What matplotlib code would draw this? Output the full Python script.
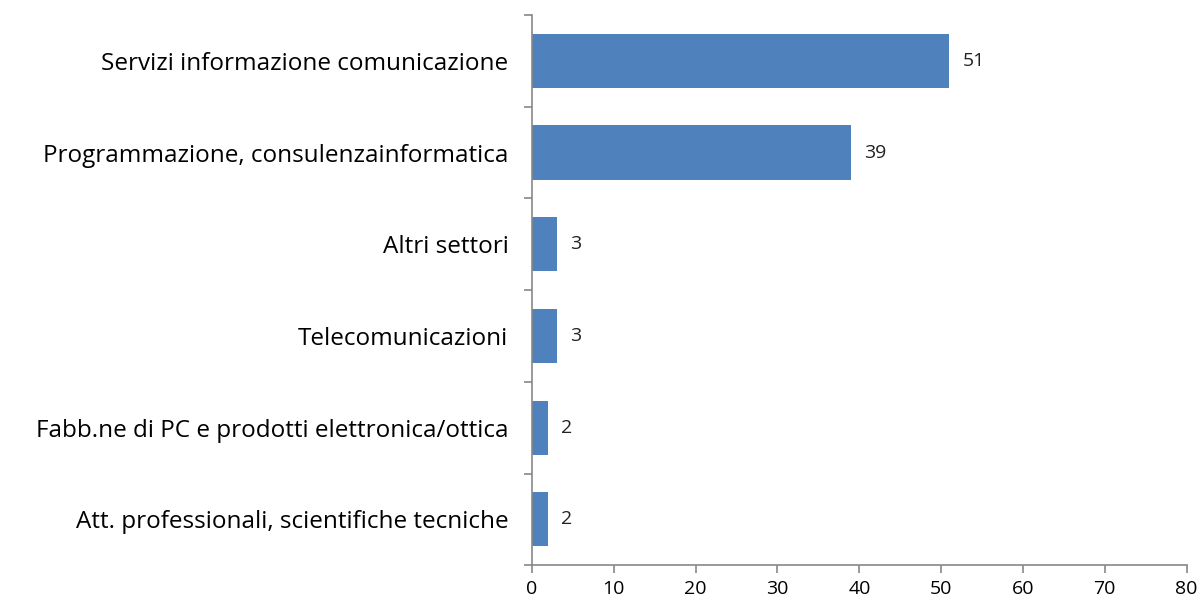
import matplotlib.pyplot as plt
import numpy as np

# data, top to bottom as in the chart
categories = ['Servizi informazione comunicazione',
              'Programmazione, consulenzainformatica',
              'Altri settori',
              'Telecomunicazioni',
              'Fabb.ne di PC e prodotti elettronica/ottica',
              'Att. professionali, scientifiche tecniche']
values = [51, 39, 3, 3, 2, 2]
xticks = [0, 10, 20, 30, 40, 50, 60, 70, 80]

plt.rcParams['font.family'] = ['Open Sans', 'DejaVu Sans']

fig = plt.figure(figsize=(12.01, 6.0), dpi=100)
ax = fig.add_axes([0.443, 0.058, 0.545, 0.917])

y = np.arange(len(categories))[::-1]
ax.barh(y, values, height=0.59, color='#4F81BD')

for yi, v in zip(y, values):
    ax.text(v + 1.6, yi, str(v), va='center', ha='left', fontsize=14, color='#222222')

ax.set_xlim(0, 80)
ax.set_ylim(-0.5, len(categories) - 0.5)
ax.set_xticks(xticks)
ax.set_xticklabels([str(t) for t in xticks], fontsize=14)

# category labels between boundary ticks
ax.set_yticks(y)
ax.set_yticklabels(categories, fontsize=17.5)
ax.set_yticks(np.arange(len(categories) + 1) - 0.5, minor=True)
ax.tick_params(axis='y', which='major', length=0, pad=17)
ax.tick_params(axis='y', which='minor', length=6, color='#888888', width=1.2)
ax.tick_params(axis='x', length=6, color='#888888', width=1.2, pad=5)

for side in ['top', 'right']:
    ax.spines[side].set_visible(False)
for side in ['left', 'bottom']:
    ax.spines[side].set_color('#888888')
    ax.spines[side].set_linewidth(1.2)

plt.savefig('out.png', dpi=100)
